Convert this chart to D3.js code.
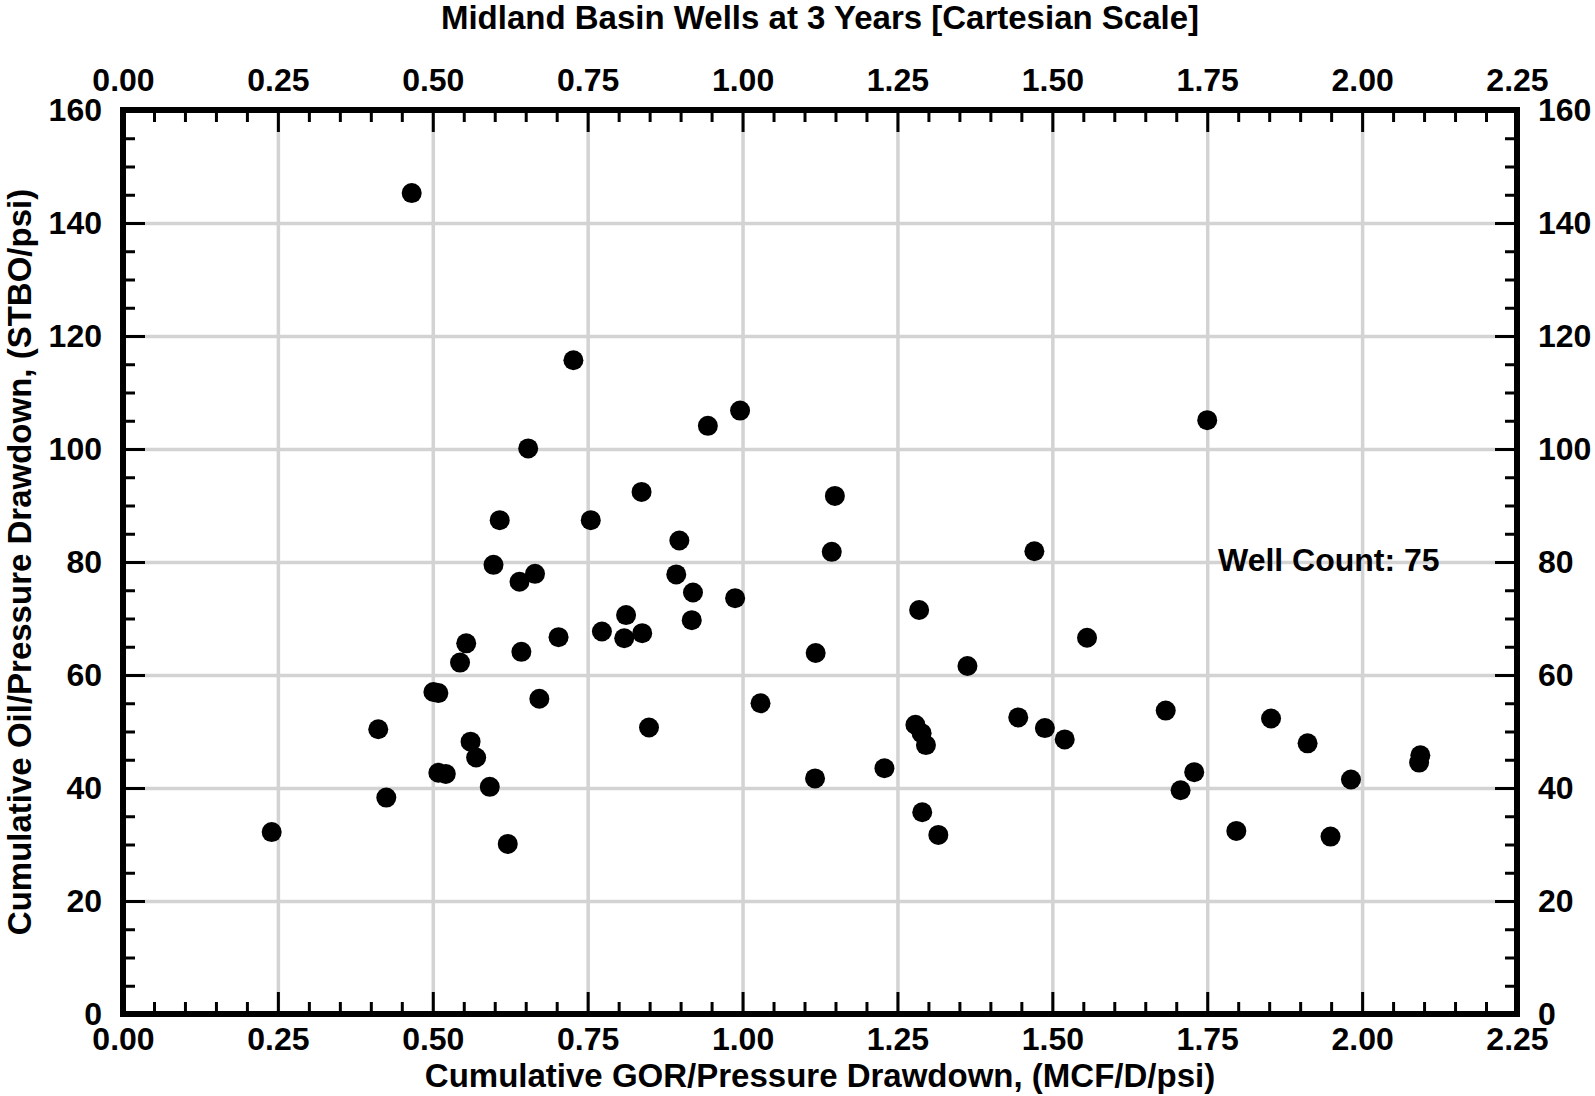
<!DOCTYPE html>
<html>
<head>
<meta charset="utf-8">
<script src="https://cdn.jsdelivr.net/npm/d3@7"></script>
<style>
  html, body { margin: 0; padding: 0; background: #fff; }
  svg { display: block; }
  text { font-family: "Liberation Sans", Arial, sans-serif; font-weight: bold; fill: #000; }
</style>
</head>
<body>
<svg id="chart" width="1595" height="1096"></svg>
<script>
// ---- data ----
const gorX = [0.240,0.412,0.425,0.466,0.501,0.509,0.509,0.521,0.544,0.554,0.561,0.570,0.592,0.598,0.608,0.621,0.640,0.643,0.654,0.665,0.672,0.703,0.727,0.755,0.773,0.809,0.812,0.837,0.838,0.849,0.893,0.898,0.918,0.920,0.944,0.988,0.996,1.029,1.117,1.118,1.144,1.149,1.229,1.279,1.285,1.289,1.290,1.296,1.316,1.363,1.445,1.471,1.488,1.520,1.556,1.683,1.707,1.729,1.750,1.797,1.853,1.912,1.949,1.982,2.092,2.094];
const oilY = [32.2,50.4,38.3,145.3,57.0,56.8,42.7,42.5,62.2,65.6,48.2,45.4,40.2,79.5,87.4,30.1,76.5,64.1,100.1,77.9,55.8,66.7,115.7,87.4,67.7,66.5,70.6,92.4,67.4,50.7,77.8,83.8,69.7,74.6,104.1,73.6,106.8,55.0,41.7,63.9,81.8,91.7,43.5,51.2,71.5,49.7,35.7,47.6,31.7,61.6,52.5,81.9,50.6,48.6,66.6,53.7,39.6,42.8,105.1,32.4,52.3,47.9,31.4,41.5,44.5,45.8];
const xMajorTicks = [0,0.25,0.5,0.75,1.0,1.25,1.5,1.75,2.0,2.25];
const xMinorTicks = [0.05,0.10,0.15,0.20,0.30,0.35,0.40,0.45,0.55,0.60,0.65,0.70,0.80,0.85,0.90,0.95,1.05,1.10,1.15,1.20,1.30,1.35,1.40,1.45,1.55,1.60,1.65,1.70,1.80,1.85,1.90,1.95,2.05,2.10,2.15,2.20];
const yMajorTicks = [0,20,40,60,80,100,120,140,160];
const yMinorTicks = [5,10,15,25,30,35,45,50,55,65,70,75,85,90,95,105,110,115,125,130,135,145,150,155];
const titleText = "Midland Basin Wells at 3 Years [Cartesian Scale]";
const xTitle = "Cumulative GOR/Pressure Drawdown, (MCF/D/psi)";
const yTitle = "Cumulative Oil/Pressure Drawdown, (STBO/psi)";
const wellCount = "Well Count: 75";

// ---- layout ----
const W = 1595, H = 1096;
const m = { left: 123, right: 78, top: 110, bottom: 82 };
const pw = W - m.left - m.right, ph = H - m.top - m.bottom;
const svg = d3.select("#chart");
const g = svg.append("g").attr("transform", `translate(${m.left},${m.top})`);

const x = d3.scaleLinear().domain([0, 2.25]).range([0, pw]);
const y = d3.scaleLinear().domain([0, 160]).range([ph, 0]);

const FS = 32;

// gridlines
const gridX = g.append("g").attr("transform", `translate(0,${ph})`)
  .call(d3.axisBottom(x).tickValues(xMajorTicks).tickSize(-ph).tickFormat(""));
const gridY = g.append("g")
  .call(d3.axisLeft(y).tickValues(yMajorTicks).tickSize(-pw).tickFormat(""));
[gridX, gridY].forEach(a => {
  a.select(".domain").remove();
  a.selectAll("line").attr("stroke", "#d3d3d3").attr("stroke-width", 3.5);
});

// points
g.append("g").selectAll("circle")
  .data(gorX.map((v, i) => [v, oilY[i]]))
  .join("circle")
  .attr("cx", d => x(d[0]))
  .attr("cy", d => y(d[1]))
  .attr("r", 10)
  .attr("fill", "#000");

// axes with inward ticks
function styleAxis(a) {
  a.select(".domain").remove();
  a.selectAll("line").attr("stroke", "#000").attr("stroke-width", 3);
  a.selectAll("text").style("font-size", FS + "px").style("font-family", '"Liberation Sans", Arial, sans-serif').style("font-weight", "bold").attr("fill", "#000");
}
const fmtX = d3.format(".2f");
const fmtY = d3.format("d");
const MAJ = 22, MIN = 12;

// bottom
styleAxis(g.append("g").attr("transform", `translate(0,${ph})`)
  .call(d3.axisBottom(x).tickValues(xMajorTicks).tickSize(-MAJ).tickPadding(13).tickFormat(fmtX)));
styleAxis(g.append("g").attr("transform", `translate(0,${ph})`)
  .call(d3.axisBottom(x).tickValues(xMinorTicks).tickSize(-MIN).tickFormat("")));
// top
styleAxis(g.append("g")
  .call(d3.axisTop(x).tickValues(xMajorTicks).tickSize(-MAJ).tickPadding(19).tickFormat(fmtX)));
styleAxis(g.append("g")
  .call(d3.axisTop(x).tickValues(xMinorTicks).tickSize(-MIN).tickFormat("")));
// left
styleAxis(g.append("g")
  .call(d3.axisLeft(y).tickValues(yMajorTicks).tickSize(-MAJ).tickPadding(21).tickFormat(fmtY)));
styleAxis(g.append("g")
  .call(d3.axisLeft(y).tickValues(yMinorTicks).tickSize(-MIN).tickFormat("")));
// right
styleAxis(g.append("g").attr("transform", `translate(${pw},0)`)
  .call(d3.axisRight(y).tickValues(yMajorTicks).tickSize(-MAJ).tickPadding(21).tickFormat(fmtY)));
styleAxis(g.append("g").attr("transform", `translate(${pw},0)`)
  .call(d3.axisRight(y).tickValues(yMinorTicks).tickSize(-MIN).tickFormat("")));

// frame
g.append("rect").attr("x", 0).attr("y", 0).attr("width", pw).attr("height", ph)
  .attr("fill", "none").attr("stroke", "#000").attr("stroke-width", 6);

// titles
svg.append("text").attr("x", m.left + pw / 2).attr("y", 29)
  .attr("text-anchor", "middle").style("font-size", "33px").text(titleText);
svg.append("text").attr("x", m.left + pw / 2).attr("y", 1087)
  .attr("text-anchor", "middle").style("font-size", "33px").text(xTitle);
svg.append("text").attr("transform", `translate(31,${m.top + ph / 2}) rotate(-90)`)
  .attr("text-anchor", "middle").style("font-size", "33px").text(yTitle);
svg.append("text").attr("x", 1218).attr("y", 571)
  .style("font-size", "32px").text(wellCount);
</script>
</body>
</html>
